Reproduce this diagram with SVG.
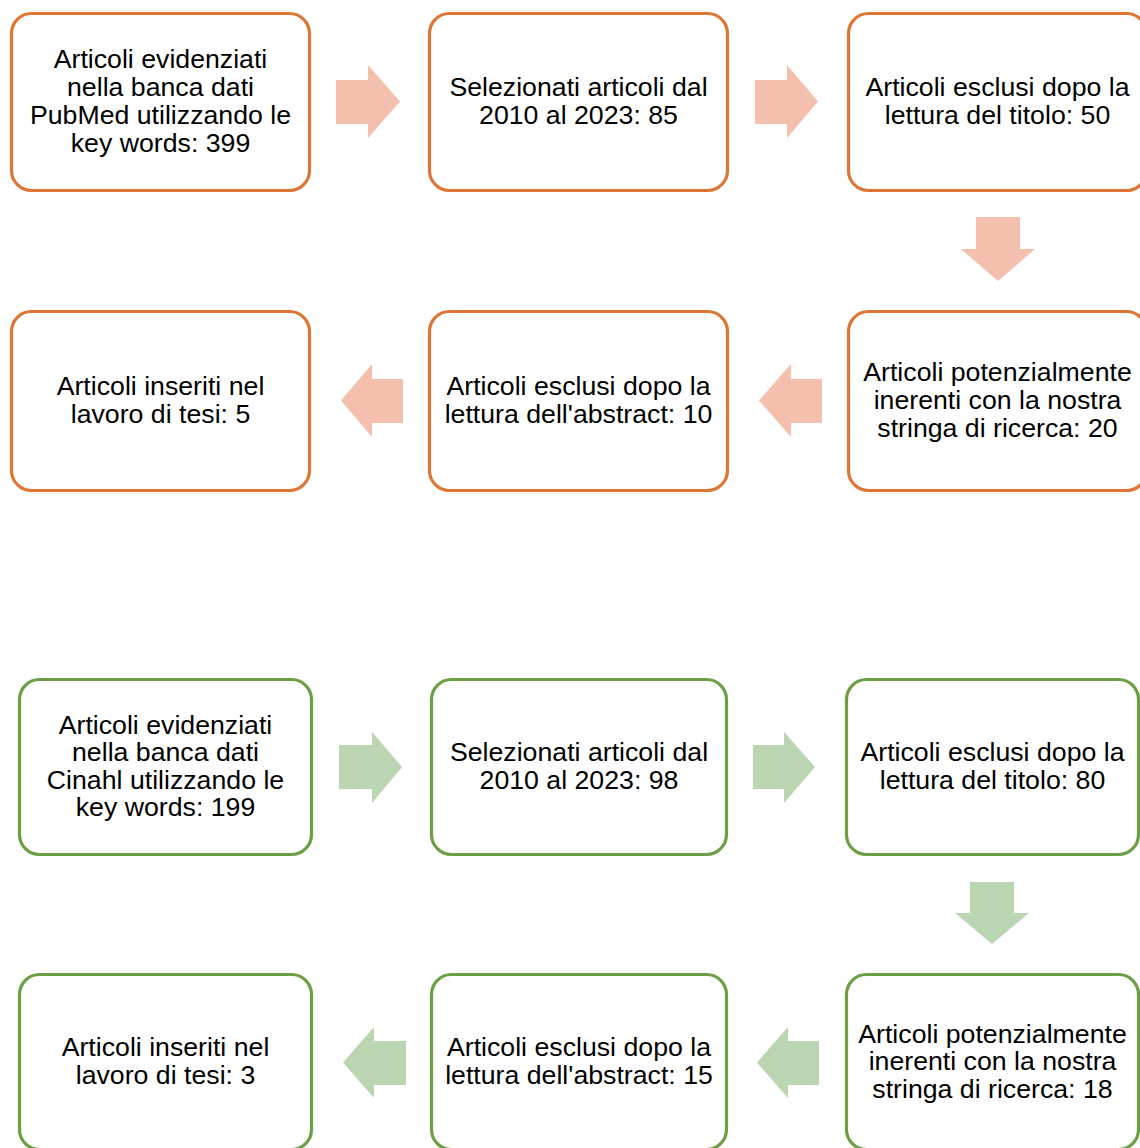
<svg xmlns="http://www.w3.org/2000/svg" width="1140" height="1148" viewBox="0 0 1140 1148">
<style>
.bo{fill:#fff;stroke:#DD7634;stroke-width:3.2}
.bg{fill:#fff;stroke:#6C9F44;stroke-width:3.2}
.ao{fill:#F4BFAC}
.ag{fill:#BBD4B1}
text{font-family:"Liberation Sans",Arial,sans-serif;font-size:26.7px;fill:#000;text-anchor:middle}
</style>
<rect width="1140" height="1148" fill="#fff"/>
<g id="connectors">
<polygon class="ao" points="336,80 368,80 368,65 400,101.5 368,138 368,124 336,124"/>
<polygon class="ao" points="755,80 787,80 787,65 818,101.5 787,138 787,124 755,124"/>
<polygon class="ao" points="976,217 1020,217 1020,249 1035,249 998,281 961,249 976,249"/>
<polygon class="ao" points="341,400.5 372,364 372,379 403,379 403,423 372,423 372,437"/>
<polygon class="ao" points="759,400.5 791,364 791,379 822,379 822,423 791,423 791,437"/>
<polygon class="ag" points="339,745 372,745 372,732 402,767 372,803 372,789 339,789"/>
<polygon class="ag" points="753,745 784,745 784,732 815,767 784,803 784,789 753,789"/>
<polygon class="ag" points="970,882 1014,882 1014,913 1029,913 992,944 955,913 970,913"/>
<polygon class="ag" points="343,1062.5 374,1027 374,1041 406,1041 406,1085 374,1085 374,1098"/>
<polygon class="ag" points="757,1062.5 788,1027 788,1041 819,1041 819,1085 788,1085 788,1098"/>
</g>
<g id="o1"><rect class="bo" x="11.5" y="13.5" width="298" height="177" rx="20"/>
<text x="160.5"><tspan x="160.5" y="67.5">Articoli evidenziati</tspan><tspan x="160.5" y="95.8">nella banca dati</tspan><tspan x="160.5" y="124.1">PubMed utilizzando le</tspan><tspan x="160.5" y="152.4">key words: 399</tspan></text></g>
<g id="o2"><rect class="bo" x="429.5" y="13.5" width="298" height="177" rx="20"/>
<text><tspan x="578.5" y="95.8">Selezionati articoli dal</tspan><tspan x="578.5" y="124.1">2010 al 2023: 85</tspan></text></g>
<g id="o3"><rect class="bo" x="848.5" y="13.5" width="298" height="177" rx="20"/>
<text><tspan x="997.5" y="95.8">Articoli esclusi dopo la</tspan><tspan x="997.5" y="124.1">lettura del titolo: 50</tspan></text></g>
<g id="o4"><rect class="bo" x="848.5" y="311.5" width="298" height="179" rx="20"/>
<text><tspan x="997.5" y="380.7">Articoli potenzialmente</tspan><tspan x="997.5" y="409">inerenti con la nostra</tspan><tspan x="997.5" y="437.3">stringa di ricerca: 20</tspan></text></g>
<g id="o5"><rect class="bo" x="429.5" y="311.5" width="298" height="179" rx="20"/>
<text><tspan x="578.5" y="394.9">Articoli esclusi dopo la</tspan><tspan x="578.5" y="423.2">lettura dell'abstract: 10</tspan></text></g>
<g id="o6"><rect class="bo" x="11.5" y="311.5" width="298" height="179" rx="20"/>
<text><tspan x="160.5" y="394.9">Articoli inseriti nel</tspan><tspan x="160.5" y="423.2">lavoro di tesi: 5</tspan></text></g>
<g id="g1"><rect class="bg" x="19.5" y="679.5" width="292" height="175" rx="20"/>
<text><tspan x="165.5" y="733.8">Articoli evidenziati</tspan><tspan x="165.5" y="761.3">nella banca dati</tspan><tspan x="165.5" y="788.8">Cinahl utilizzando le</tspan><tspan x="165.5" y="816.3">key words: 199</tspan></text></g>
<g id="g2"><rect class="bg" x="431.5" y="679.5" width="295" height="175" rx="20"/>
<text><tspan x="579" y="761.3">Selezionati articoli dal</tspan><tspan x="579" y="788.8">2010 al 2023: 98</tspan></text></g>
<g id="g3"><rect class="bg" x="846.5" y="679.5" width="292" height="175" rx="20"/>
<text><tspan x="992.5" y="761.3">Articoli esclusi dopo la</tspan><tspan x="992.5" y="788.8">lettura del titolo: 80</tspan></text></g>
<g id="g4"><rect class="bg" x="846.5" y="974.5" width="292" height="175" rx="20"/>
<text><tspan x="992.5" y="1042.5">Articoli potenzialmente</tspan><tspan x="992.5" y="1070">inerenti con la nostra</tspan><tspan x="992.5" y="1097.5">stringa di ricerca: 18</tspan></text></g>
<g id="g5"><rect class="bg" x="431.5" y="974.5" width="295" height="175" rx="20"/>
<text><tspan x="579" y="1056">Articoli esclusi dopo la</tspan><tspan x="579" y="1083.5">lettura dell'abstract: 15</tspan></text></g>
<g id="g6"><rect class="bg" x="19.5" y="974.5" width="292" height="175" rx="20"/>
<text><tspan x="165.5" y="1056">Articoli inseriti nel</tspan><tspan x="165.5" y="1083.5">lavoro di tesi: 3</tspan></text></g>
</svg>
